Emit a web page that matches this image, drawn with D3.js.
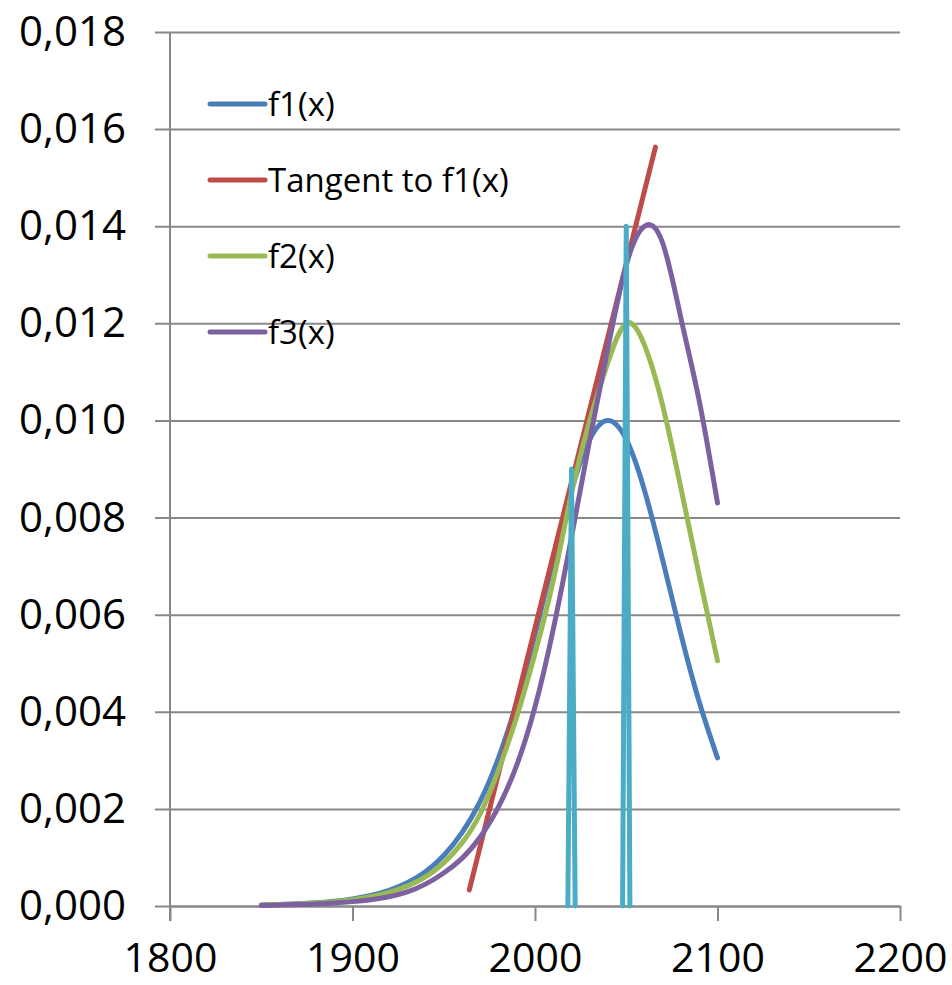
<!DOCTYPE html>
<html>
<head>
<meta charset="utf-8">
<script src="https://cdn.jsdelivr.net/npm/d3@7"></script>
<style>
  body { margin: 0; background: #fff; }
  svg text { font-family: "Open Sans", "Liberation Sans", sans-serif; fill: #000; }
</style>
</head>
<body>
<div id="chart"></div>
<script>
const width = 952;
const height = 985;

// values
const years = [1850, 1860, 1870, 1880, 1890, 1900, 1910, 1920, 1930, 1940, 1950, 1960, 1970,
  1980, 1990, 2000, 2010, 2020, 2030, 2040, 2050, 2060, 2070, 2080, 2090, 2100];
const f1 = [0.00002, 0.00003, 0.000045, 0.000066, 0.0001, 0.000147, 0.000218, 0.000324, 0.00048,
  0.000707, 0.00104, 0.00151, 0.00216, 0.00305, 0.0042, 0.00559, 0.00712, 0.00856, 0.00961,
  0.0100, 0.00961, 0.00856, 0.00712, 0.00559, 0.0042, 0.00305];
const f2 = [0.00002, 0.00003, 0.00004, 0.00006, 0.00009, 0.00013, 0.00019, 0.00028, 0.00041,
  0.0006, 0.00089, 0.0013, 0.0019, 0.0028, 0.0039, 0.0052, 0.0067, 0.0085, 0.0100,
  0.0112, 0.0120, 0.01155, 0.0103, 0.0086, 0.0068, 0.00505];
const f3 = [0.00001, 0.00002, 0.00003, 0.00004, 0.00006, 0.00009, 0.00013, 0.00019, 0.00029,
  0.00045, 0.00068, 0.00098, 0.00142, 0.00204, 0.0029, 0.0041, 0.0057, 0.0076, 0.0096,
  0.0115, 0.0132, 0.0140, 0.01365, 0.0121, 0.0104, 0.0083];
const tangentX = [1964, 2066];
const tangentY = [0.00033, 0.01563];
const spikeX = [2018, 2020, 2022, null, 2048, 2050, 2052];
const spikeY = [0, 0.009, 0, null, 0, 0.014, 0];

const legendNames = ["f1(x)", "Tangent to f1(x)", "f2(x)", "f3(x)"];
const colors = ["#4a7ebb", "#be4b48", "#98b954", "#7d60a0", "#4aacc5"];
const xTicks = [1800, 1900, 2000, 2100, 2200];
const yTicks = [0, 0.002, 0.004, 0.006, 0.008, 0.010, 0.012, 0.014, 0.016, 0.018];

const loc = d3.formatLocale({decimal: ",", thousands: ".", grouping: [3], currency: ["", ""]});
const yFormat = loc.format(".3f");

const svg = d3.select("#chart").append("svg")
  .attr("width", width)
  .attr("height", height);

const x = d3.scaleLinear().domain([1800, 2200]).range([170, 900]);
const y = d3.scaleLinear().domain([0, 0.018]).range([906, 32]);

// y axis + gridlines
const yAxis = svg.append("g")
  .attr("transform", "translate(170,0)")
  .call(d3.axisLeft(y).tickValues(yTicks).tickFormat(yFormat).tickSize(15).tickSizeOuter(0).tickPadding(29));
yAxis.selectAll(".tick line")
  .attr("x1", -15).attr("x2", 730)
  .attr("stroke", "#888").attr("stroke-width", 2);
yAxis.select(".domain").remove();
yAxis.append("line")
  .attr("x1", 0).attr("x2", 0).attr("y1", 32).attr("y2", 921)
  .attr("stroke", "#888").attr("stroke-width", 2);
yAxis.selectAll("text").style("font-size", "42px");

// x axis
const xAxis = svg.append("g")
  .attr("transform", "translate(0,906)")
  .call(d3.axisBottom(x).tickValues(xTicks).tickFormat(d3.format("d")).tickSize(15).tickSizeOuter(0).tickPadding(22));
xAxis.selectAll(".tick line").attr("stroke", "#888").attr("stroke-width", 2);
xAxis.select(".domain").attr("stroke", "#888").attr("stroke-width", 2);
xAxis.selectAll("text").style("font-size", "41px");

const line = d3.line()
  .defined(d => d[0] !== null)
  .x(d => x(d[0]))
  .y(d => y(d[1]));

const smooth = d3.line()
  .x(d => x(d[0]))
  .y(d => y(d[1]))
  .curve(d3.curveNatural);

const series = [
  {pts: years.map((t, i) => [t, f1[i]]), gen: smooth},
  {pts: tangentX.map((t, i) => [t, tangentY[i]]), gen: line},
  {pts: years.map((t, i) => [t, f2[i]]), gen: smooth},
  {pts: years.map((t, i) => [t, f3[i]]), gen: smooth},
  {pts: spikeX.map((t, i) => [t, spikeY[i]]), gen: line}
];

svg.append("g").selectAll("path")
  .data(series)
  .enter().append("path")
  .attr("d", d => d.gen(d.pts))
  .attr("fill", "none")
  .attr("stroke", (d, i) => colors[i])
  .attr("stroke-width", 5)
  .attr("stroke-linecap", "round")
  .attr("stroke-linejoin", "round");

// legend
const legend = svg.append("g").selectAll("g")
  .data(legendNames)
  .enter().append("g")
  .attr("transform", (d, i) => "translate(210," + (104 + i * 76) + ")");
legend.append("line")
  .attr("x1", 0).attr("x2", 55)
  .attr("stroke", (d, i) => colors[i])
  .attr("stroke-width", 5)
  .attr("stroke-linecap", "round");
legend.append("text")
  .attr("x", 58)
  .attr("dy", "0.35em")
  .style("font-size", "33px")
  .text(d => d);
</script>
</body>
</html>
